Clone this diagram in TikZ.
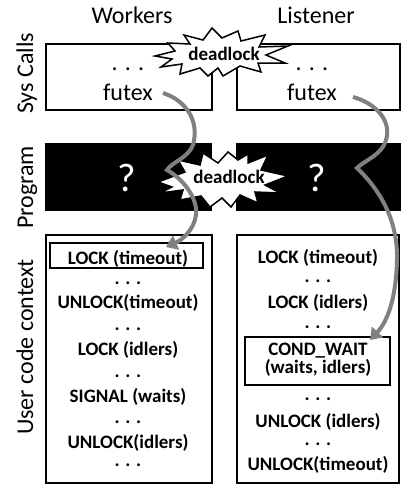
\documentclass[tikz,border=0pt]{standalone}
\usepackage{fontspec}
\setmainfont{Carlito}
\usetikzlibrary{arrows.meta}
\definecolor{arrowgray}{RGB}{128,128,128}
\begin{document}
\begin{tikzpicture}[x=1pt,y=-1pt,
  box/.style={draw=black,line width=2pt},
  inbox/.style={draw=black,line width=1.3pt},
  blk/.style={fill=black},
  hdr/.style={font=\fontsize{24}{24}\selectfont,anchor=base,inner sep=0pt},
  side/.style={font=\fontsize{24}{24}\selectfont,anchor=base,inner sep=0pt,rotate=90},
  code/.style={font=\bfseries\fontsize{19}{19}\selectfont,anchor=base,inner sep=0pt},
  qm/.style={font=\fontsize{40}{40}\selectfont,text=white,anchor=base,inner sep=0pt},
  dl/.style={font=\bfseries\fontsize{19}{19}\selectfont,anchor=base,inner sep=0pt},
  burst/.style={draw=black,fill=white,line width=1.5pt,line join=miter},
  garrow/.style={draw=arrowgray,line width=4pt,-{Triangle[length=11pt,width=15pt]}}]
\useasboundingbox (0,0) rectangle (401,485);

% headers
\node[hdr] (hw) at (132,23) {Workers};
\node[hdr] (hl) at (316,23) {Listener};

% side labels
\node[side] (ls) at (33,73.5) {Sys Calls};
\node[side] (lp) at (33,187.5) {Program};
\node[side] (lu) at (33,347) {User code context};

% sys call boxes
\draw[box] (46,44) rectangle (211.5,110);
\draw[box] (236.5,44) rectangle (400,110);
\node[hdr] (d1) at (128,70) {. . .};
\node[hdr] (f1) at (128,100) {futex};
\node[hdr] (d2) at (312,70) {. . .};
\node[hdr] (f2) at (312,100) {futex};

% top deadlock burst
\draw[burst] (155,56) -- (175,51) -- (168,43) -- (190,44) -- (184,35) -- (203,40)
  -- (212,28) -- (222,38) -- (238,31) -- (241,41) -- (265,35) -- (259,47)
  -- (288,46) -- (266,55) -- (285,63) -- (258,63) -- (261,72) -- (240,66)
  -- (223,76) -- (218,68) -- (208,76) -- (200,68) -- (180,74) -- (182,64)
  -- (161,67) -- (172,59) -- cycle;
\node[dl] (dl1) at (224,60) {deadlock};

% program boxes
\fill[blk] (45,143) rectangle (212,211);
\fill[blk] (236,143) rectangle (401,211);
\node[qm] (q1) at (127,191) {?};
\node[qm] (q2) at (317,191) {?};

% bottom deadlock burst
\draw[burst] (158,182) -- (185,172) -- (178,160) -- (200,165) -- (203,153)
  -- (218,163) -- (228,152) -- (238,160) -- (248,154) -- (248,163) -- (268,155)
  -- (261,170) -- (288,176) -- (265,185) -- (280,193) -- (255,192) -- (258,203)
  -- (240,195) -- (231,207) -- (222,198) -- (210,207) -- (201,196) -- (180,200)
  -- (183,190) -- (160,193) -- (172,187) -- cycle;
\node[dl] (dl2) at (229,183) {deadlock};

% user code boxes
\draw[box] (46,235) rectangle (211.5,483);
\draw[box] (236.5,235) rectangle (399,483);

% workers code
\draw[inbox] (50,243) rectangle (203,268);
\node[code] (w1) at (128,264) {LOCK (timeout)};
\node[code] (w2) at (128,284) {. . .};
\node[code] (w3) at (128,308) {UNLOCK(timeout)};
\node[code] (w4) at (128,330) {. . .};
\node[code] (w5) at (128,355) {LOCK (idlers)};
\node[code] (w6) at (128,377) {. . .};
\node[code] (w7) at (128,402) {SIGNAL (waits)};
\node[code] (w8) at (128,423) {. . .};
\node[code] (w9) at (128,448) {UNLOCK(idlers)};
\node[code] (w10) at (128,466) {. . .};

% listener code
\node[code] (l1) at (318,263) {LOCK (timeout)};
\node[code] (l2) at (318,282) {. . .};
\node[code] (l3) at (318,308) {LOCK (idlers)};
\node[code] (l4) at (318,328) {. . .};
\draw[inbox] (245,337) rectangle (390,385);
\node[code] (l5) at (318,355) {COND\_WAIT};
\node[code] (l6) at (318,373) {(waits, idlers)};
\node[code] (l7) at (318,400) {. . .};
\node[code] (l8) at (318,427) {UNLOCK (idlers)};
\node[code] (l9) at (318,445) {. . .};
\node[code] (l10) at (318,470) {UNLOCK(timeout)};

% arrows
\coordinate (s1) at (163,93);
\coordinate (e1) at (166,247);
\coordinate (s2) at (353,97);
\coordinate (e2) at (370,340);
\draw[garrow] (s1) .. controls (185,100) and (200,120) .. (193,145)
  .. controls (188,158) and (172,162) .. (167,170)
  .. controls (185,180) and (198,200) .. (196,215)
  .. controls (194,230) and (182,240) .. (e1);
\draw[garrow] (s2) .. controls (375,103) and (392,120) .. (386,140)
  .. controls (382,155) and (365,160) .. (357,168)
  .. controls (380,190) and (398,220) .. (397,260)
  .. controls (396,300) and (387,322) .. (e2);
\end{tikzpicture}
\end{document}
